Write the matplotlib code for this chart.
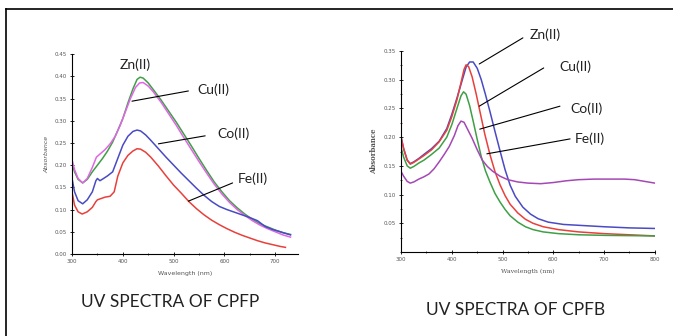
import matplotlib
matplotlib.use("Agg")
import matplotlib.pyplot as plt
from matplotlib.lines import Line2D
from matplotlib.ticker import MultipleLocator, FormatStrFormatter

# -- CPFP spectra (left panel) --
zn_p_nm = [300, 305, 312, 321, 330, 340, 350, 360, 370, 380, 390, 400, 410, 420, 428, 434,
           440, 450, 460, 475, 490, 505, 520, 535, 550, 565, 580, 595, 610, 625, 640, 655,
           670, 685, 700, 715, 730]
zn_p = [0.205, 0.185, 0.168, 0.160, 0.168, 0.185, 0.200, 0.215, 0.232, 0.252, 0.278, 0.305,
        0.340, 0.372, 0.393, 0.398, 0.396, 0.385, 0.370, 0.347, 0.322, 0.297, 0.270, 0.243,
        0.215, 0.188, 0.162, 0.140, 0.120, 0.104, 0.090, 0.078, 0.068, 0.061, 0.054, 0.048,
        0.044]
cu_p_nm = [300, 305, 312, 321, 330, 340, 348, 355, 365, 375, 385, 395, 405, 415, 425, 433,
           440, 450, 460, 475, 490, 505, 520, 535, 550, 565, 580, 595, 610, 625, 640, 655,
           670, 685, 700, 715, 730]
cu_p = [0.212, 0.190, 0.170, 0.160, 0.170, 0.195, 0.218, 0.225, 0.235, 0.248, 0.265, 0.290,
        0.320, 0.350, 0.375, 0.385, 0.386, 0.378, 0.365, 0.342, 0.316, 0.290, 0.262, 0.235,
        0.208, 0.182, 0.157, 0.135, 0.116, 0.100, 0.087, 0.075, 0.065, 0.057, 0.050, 0.043,
        0.038]
co_p_nm = [300, 305, 312, 321, 330, 340, 347, 350, 355, 362, 370, 380, 390, 400, 410, 420,
           428, 435, 445, 455, 470, 485, 500, 515, 530, 545, 560, 575, 590, 605, 620, 635,
           650, 665, 680, 695, 710, 730]
co_p = [0.170, 0.140, 0.120, 0.113, 0.122, 0.140, 0.165, 0.170, 0.165, 0.170, 0.176, 0.185,
        0.215, 0.245, 0.265, 0.276, 0.279, 0.277, 0.268, 0.256, 0.237, 0.218, 0.200, 0.182,
        0.165, 0.148, 0.132, 0.118, 0.107, 0.100, 0.094, 0.088, 0.082, 0.075, 0.062, 0.055,
        0.050, 0.043]
fe_p_nm = [300, 305, 312, 320, 330, 340, 347, 350, 355, 365, 375, 383, 390, 400, 410, 420,
           428, 435, 445, 455, 470, 485, 500, 515, 530, 545, 560, 575, 590, 605, 620, 635,
           650, 665, 680, 695, 710, 720]
fe_p = [0.140, 0.110, 0.095, 0.090, 0.095, 0.105, 0.118, 0.122, 0.124, 0.128, 0.130, 0.140,
        0.175, 0.205, 0.222, 0.232, 0.237, 0.236, 0.229, 0.218, 0.198, 0.176, 0.155, 0.137,
        0.118, 0.102, 0.088, 0.076, 0.066, 0.057, 0.049, 0.042, 0.036, 0.030, 0.025, 0.021,
        0.017, 0.015]

# -- CPFB spectra (right panel) --
zn_b_nm = [300, 305, 312, 318, 325, 335, 345, 360, 375, 390, 400, 410, 420, 428, 435, 442,
           450, 458, 466, 475, 485, 495, 505, 515, 525, 540, 555, 570, 590, 620, 660, 700,
           750, 800]
zn_b = [0.200, 0.180, 0.160, 0.154, 0.157, 0.163, 0.170, 0.180, 0.193, 0.215, 0.240, 0.268,
        0.298, 0.322, 0.331, 0.331, 0.320, 0.300, 0.275, 0.245, 0.210, 0.176, 0.143, 0.116,
        0.097, 0.078, 0.066, 0.058, 0.052, 0.048, 0.046, 0.044, 0.042, 0.041]
cu_b_nm = [300, 305, 312, 318, 325, 335, 345, 360, 375, 390, 400, 410, 418, 424, 428, 433,
           440, 448, 456, 465, 475, 485, 495, 505, 515, 530, 545, 560, 580, 610, 650, 700,
           750, 800]
cu_b = [0.200, 0.180, 0.160, 0.153, 0.156, 0.162, 0.168, 0.178, 0.192, 0.212, 0.236, 0.265,
        0.295, 0.318, 0.326, 0.323, 0.305, 0.275, 0.242, 0.205, 0.170, 0.140, 0.117, 0.098,
        0.083, 0.068, 0.057, 0.050, 0.044, 0.039, 0.035, 0.032, 0.030, 0.028]
co_b_nm = [300, 305, 312, 318, 325, 335, 345, 360, 375, 390, 400, 410, 418, 423, 428, 435,
           442, 450, 458, 466, 475, 485, 495, 505, 515, 530, 545, 560, 580, 610, 650, 700,
           800]
co_b = [0.182, 0.165, 0.150, 0.146, 0.149, 0.155, 0.160, 0.170, 0.181, 0.200, 0.222, 0.250,
        0.272, 0.279, 0.275, 0.255, 0.228, 0.196, 0.166, 0.142, 0.122, 0.102, 0.087, 0.074,
        0.063, 0.052, 0.044, 0.039, 0.035, 0.032, 0.030, 0.029, 0.028]
fe_b_nm = [300, 305, 312, 318, 325, 335, 345, 355, 365, 375, 385, 395, 405, 412, 418, 424,
           432, 440, 450, 460, 470, 480, 495, 510, 530, 550, 575, 600, 625, 650, 680, 710,
           740, 760, 780, 800]
fe_b = [0.140, 0.132, 0.123, 0.120, 0.122, 0.127, 0.131, 0.136, 0.145, 0.157, 0.170, 0.184,
        0.203, 0.220, 0.228, 0.226, 0.212, 0.198, 0.178, 0.160, 0.149, 0.141, 0.132, 0.126,
        0.122, 0.120, 0.119, 0.121, 0.124, 0.126, 0.127, 0.127, 0.127, 0.126, 0.123, 0.120]

GREEN = "#3f9f46"
MAGENTA = "#e066e6"
BLUE = "#4a4ac4"
RED = "#e8403c"
PURPLE = "#a448b4"

fig = plt.figure(figsize=(6.73, 3.36), dpi=100)
fig.patch.set_facecolor("white")

# page frame (top and left only)
fig.add_artist(Line2D([0.009, 1.0], [0.973, 0.973], color="black", lw=1.2))
fig.add_artist(Line2D([0.009, 0.009], [0.0, 0.973], color="black", lw=1.2))


def style_axes(ax):
    for s in ("top", "right"):
        ax.spines[s].set_visible(False)
    for s in ("left", "bottom"):
        ax.spines[s].set_linewidth(0.8)
    ax.tick_params(which="major", direction="inout", length=3, width=0.6,
                   labelsize=4, labelcolor="#555555", pad=2)
    ax.tick_params(which="minor", direction="inout", length=2, width=0.5)


label_font = dict(family=["Lato", "DejaVu Sans"], fontsize=10, color="#222222")
line_kw = dict(arrowstyle="-", color="black", lw=0.8, shrinkA=0, shrinkB=0)
LW = 1.1

# -- Left panel --
ax1 = fig.add_axes([0.107, 0.244, 0.336, 0.595])
ax1.plot(zn_p_nm, zn_p, color=GREEN, lw=LW)
ax1.plot(cu_p_nm, cu_p, color=MAGENTA, lw=LW)
ax1.plot(co_p_nm, co_p, color=BLUE, lw=LW)
ax1.plot(fe_p_nm, fe_p, color=RED, lw=LW)
ax1.set_xlim(300, 745)
ax1.set_ylim(0, 0.45)
ax1.xaxis.set_major_locator(MultipleLocator(100))
ax1.xaxis.set_minor_locator(MultipleLocator(50))
ax1.yaxis.set_major_locator(MultipleLocator(0.05))
ax1.yaxis.set_major_formatter(FormatStrFormatter("%.2f"))
style_axes(ax1)
ax1.set_xlabel("Wavelength (nm)", fontsize=4.5, color="#555555", labelpad=5)
ax1.set_ylabel("Absorbance", fontsize=4.5, color="#555555", style="italic", labelpad=4)

ax1.text(424, 0.425, "Zn(II)", ha="center", va="center", **label_font)
ax1.text(578, 0.369, "Cu(II)", ha="center", va="center", **label_font)
ax1.text(618, 0.270, "Co(II)", ha="center", va="center", **label_font)
ax1.text(655, 0.169, "Fe(II)", ha="center", va="center", **label_font)
ax1.annotate("", xy=(418, 0.344), xytext=(529, 0.367), arrowprops=line_kw)
ax1.annotate("", xy=(470, 0.248), xytext=(562, 0.266), arrowprops=line_kw)
ax1.annotate("", xy=(529, 0.119), xytext=(616, 0.160), arrowprops=line_kw)

# -- Right panel --
ax2 = fig.add_axes([0.596, 0.25, 0.377, 0.598])
ax2.plot(zn_b_nm, zn_b, color=BLUE, lw=LW)
ax2.plot(cu_b_nm, cu_b, color=RED, lw=LW)
ax2.plot(co_b_nm, co_b, color=GREEN, lw=LW)
ax2.plot(fe_b_nm, fe_b, color=PURPLE, lw=LW)
ax2.set_xlim(300, 800)
ax2.set_ylim(0, 0.35)
ax2.xaxis.set_major_locator(MultipleLocator(100))
ax2.xaxis.set_minor_locator(MultipleLocator(50))
ax2.yaxis.set_minor_locator(MultipleLocator(0.025))
ax2.set_yticks([0.05, 0.10, 0.15, 0.20, 0.25, 0.30, 0.35])
ax2.yaxis.set_major_formatter(FormatStrFormatter("%.2f"))
style_axes(ax2)
ax2.set_xlabel("Wavelength (nm)", fontsize=4.5, color="#555555", family="serif", labelpad=5)
ax2.set_ylabel("Absorbance", fontsize=5, color="#555555", family="serif",
               fontweight="bold", labelpad=4)

ax2.text(583, 0.378, "Zn(II)", ha="center", va="center", **label_font)
ax2.text(643, 0.322, "Cu(II)", ha="center", va="center", **label_font)
ax2.text(666, 0.249, "Co(II)", ha="center", va="center", **label_font)
ax2.text(672, 0.197, "Fe(II)", ha="center", va="center", **label_font)
ax2.annotate("", xy=(454, 0.3275), xytext=(540, 0.373), arrowprops=line_kw)
ax2.annotate("", xy=(454, 0.254), xytext=(581, 0.3206), arrowprops=line_kw)
ax2.annotate("", xy=(455, 0.214), xytext=(613, 0.254), arrowprops=line_kw)
ax2.annotate("", xy=(469, 0.171), xytext=(633, 0.197), arrowprops=line_kw)

# -- captions --
fig.text(170 / 673, 1 - 302 / 336, "UV SPECTRA OF CPFP", ha="center", va="center",
         family=["Lato", "DejaVu Sans"], fontsize=12.5, color="#222222")
fig.text(516 / 673, 1 - 310 / 336, "UV SPECTRA OF CPFB", ha="center", va="center",
         family=["Lato", "DejaVu Sans"], fontsize=12.5, color="#222222")

fig.savefig("out.png", dpi=100, facecolor="white")
